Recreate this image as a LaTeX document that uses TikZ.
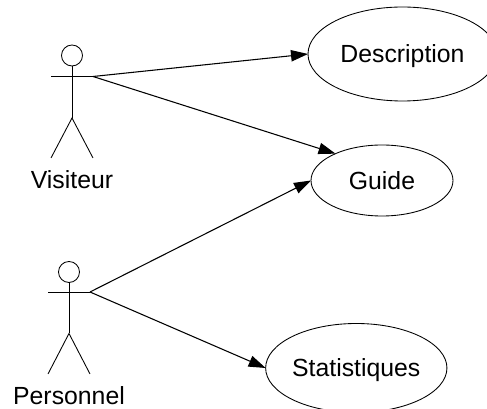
\documentclass[tikz,border=0pt]{standalone}
\usepackage{fontspec}
\setmainfont{Liberation Sans}
\usetikzlibrary{shapes.geometric,arrows.meta}
\tikzset{
  usecase/.style={draw,ellipse,inner sep=0pt,outer sep=0pt,line width=0.65pt,text height=17pt,text depth=4pt,font=\fontsize{18.6}{20}\selectfont},
  head/.style={draw,circle,minimum size=15.75pt,inner sep=0pt,outer sep=0pt,line width=0.65pt},
  limb/.style={line width=0.65pt},
  assoc/.style={line width=0.8pt,-{Triangle[length=12.75pt,width=8.5pt]}},
  actorname/.style={inner sep=0pt,text height=17pt,text depth=4pt,font=\fontsize{18.6}{20}\selectfont}
}
\begin{document}
\begin{tikzpicture}[x=0.75pt,y=-0.75pt]
\useasboundingbox (0,0) rectangle (487,409);
\clip (0,0) rectangle (487,409);
% use cases
\node[usecase,minimum width=141.75pt,minimum height=70.5pt] (desc) at (402.5,54) {Description};
\node[usecase,minimum width=106.5pt,minimum height=53.25pt] (guide) at (382,180.5) {Guide};
\node[usecase,minimum width=134.25pt,minimum height=66.75pt] (stat) at (356.3,368) {Statistiques};
% actor Visiteur
\node[head] (h1) at (72,55.5) {};
\coordinate (la1) at (51,76.5);
\coordinate (ra1) at (93,76.5);
\coordinate (hip1) at (72,118);
\coordinate (lf1) at (51,158);
\coordinate (rf1) at (93,158);
\draw[limb] (h1.south) -- (hip1);
\draw[limb] (la1) -- (ra1);
\draw[limb] (lf1) -- (hip1) -- (rf1);
\node[actorname] (n1) at (72,179.7) {Visiteur};
% actor Personnel
\node[head] (h2) at (69,272) {};
\coordinate (la2) at (48,292);
\coordinate (ra2) at (90,292);
\coordinate (hip2) at (69,333.5);
\coordinate (lf2) at (48,374);
\coordinate (rf2) at (90,374);
\draw[limb] (h2.south) -- (hip2);
\draw[limb] (la2) -- (ra2);
\draw[limb] (lf2) -- (hip2) -- (rf2);
\node[actorname] (n2) at (69,395.4) {Personnel};
% associations
\draw[assoc] (ra1) -- (desc.west);
\draw[assoc] (ra1) -- (guide.150);
\draw[assoc] (ra2) -- (guide.west);
\draw[assoc] (ra2) -- (stat.west);
\end{tikzpicture}
\end{document}
